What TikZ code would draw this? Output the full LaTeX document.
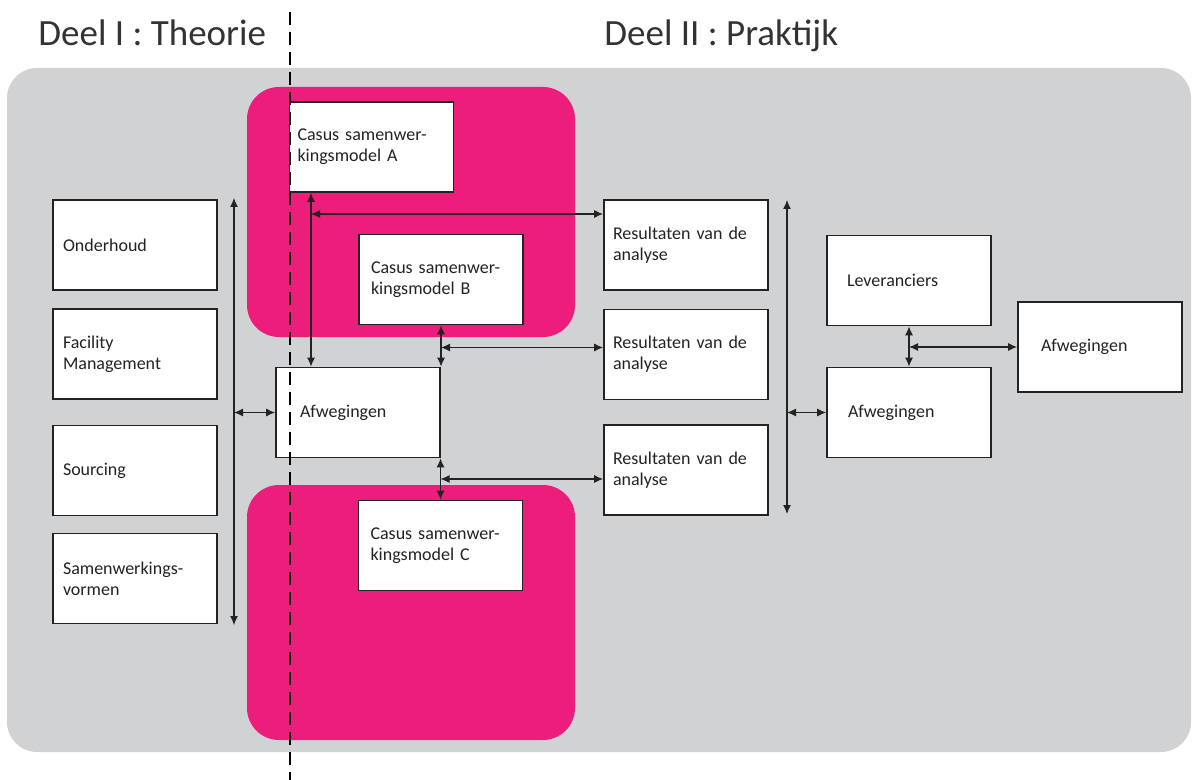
\documentclass[tikz,border=0pt]{standalone}
\usepackage{fontspec}
\setmainfont{Carlito}
\usepackage{tikz}
\usetikzlibrary{arrows.meta}
\definecolor{casuspink}{RGB}{236,29,123}
\definecolor{vlakgrijs}{RGB}{209,210,212}
\definecolor{lijn}{RGB}{35,35,35}
\tikzset{
  box/.style={draw=lijn, fill=white, line width=0.9pt, minimum height=45pt,
    align=left, inner xsep=#1, text width={82pt-2*#1},
    font=\fontsize{9}{10.5}\selectfont, text=lijn},
  box/.default=5pt,
  pijl/.style={lijn, line width=0.55pt,
    {Latex[length=4.5pt,width=4pt]}-{Latex[length=4.5pt,width=4pt]}},
  blok/.style={fill=casuspink, rounded corners=16pt},
  kop/.style={anchor=base west, inner sep=0pt,
    font=\fontsize{18.5}{20}\selectfont, text=black!80}
}

\begin{document}
\begin{tikzpicture}[x=0.5pt, y=-0.5pt]
  \useasboundingbox (0,0) rectangle (1192,780);
  \fill[vlakgrijs, rounded corners=15pt] (7,68) rectangle (1191,752);
  \fill[blok] (247,87) rectangle (575,337);
  \fill[blok] (247,485) rectangle (575,740);

  \node[kop] (theorie) at (38,46) {Deel I : Theorie};
  \node[kop] (praktijk) at (604,46) {Deel II : Praktijk};

  \node[box] (onder) at (135,245) {Onderhoud};
  \node[box] (fm) at (135,354) {Facility\\Management};
  \node[box] (sourc) at (135,470.5) {Sourcing};
  \node[box] (samen) at (135,578.5) {Samenwerkings-\\vormen};

  \node[box=4pt] (casA) at (371.5,147) {Casus samenwer-\\kingsmodel A};
  \node[box=6pt] (casB) at (441,279.5) {Casus samenwer-\\kingsmodel B};
  \node[box=12pt] (afw1) at (358,412.5) {Afwegingen};
  \node[box=6pt] (casC) at (440.5,545.5) {Casus samenwer-\\kingsmodel C};

  \node[box=4.5pt] (res1) at (686,245) {Resultaten van de\\analyse};
  \node[box=4.5pt] (res2) at (686,354.5) {Resultaten van de\\analyse};
  \node[box=4.5pt] (res3) at (686,470) {Resultaten van de\\analyse};

  \node[box=10pt] (lev) at (909,280.5) {Leveranciers};
  \node[box=10.5pt] (afw2) at (909,412.5) {Afwegingen};
  \node[box=11.5pt] (afw3) at (1100,347) {Afwegingen};

  \coordinate (lTop) at (234,198);
  \coordinate (lBot) at (234,625);
  \coordinate (rTop) at (787,200);
  \coordinate (rBot) at (787,514);
  \coordinate (jA) at (311,214);
  \coordinate (jB) at (441,347.5);
  \coordinate (jC) at (440.5,479);
  \coordinate (jL) at (lev.south |- afw3.west);

  \draw[pijl] (lTop) -- (lBot);
  \draw[pijl] (afw1.west -| lTop) -- (afw1.west);
  \draw[pijl] (casA.south -| jA) -- (afw1.north -| jA);
  \draw[pijl] (jA) -- (res1.west |- jA);
  \draw[pijl] (casB.south) -- (casB.south |- afw1.north);
  \draw[pijl] (jB) -- (res2.west |- jB);
  \draw[pijl] (afw1.south -| casC.north) -- (casC.north);
  \draw[pijl] (jC) -- (res3.west |- jC);
  \draw[pijl] (rTop) -- (rBot);
  \draw[pijl] (afw2.west -| rTop) -- (afw2.west);
  \draw[pijl] (lev.south) -- (afw2.north);
  \draw[pijl] (jL) -- (afw3.west);

  \coordinate (dTop) at (290,12);
  \coordinate (dBot) at (290,780);
  \draw[black, line width=1pt, dash pattern=on 6.5pt off 3.5pt] (dTop) -- (dBot);
\end{tikzpicture}
\end{document}
